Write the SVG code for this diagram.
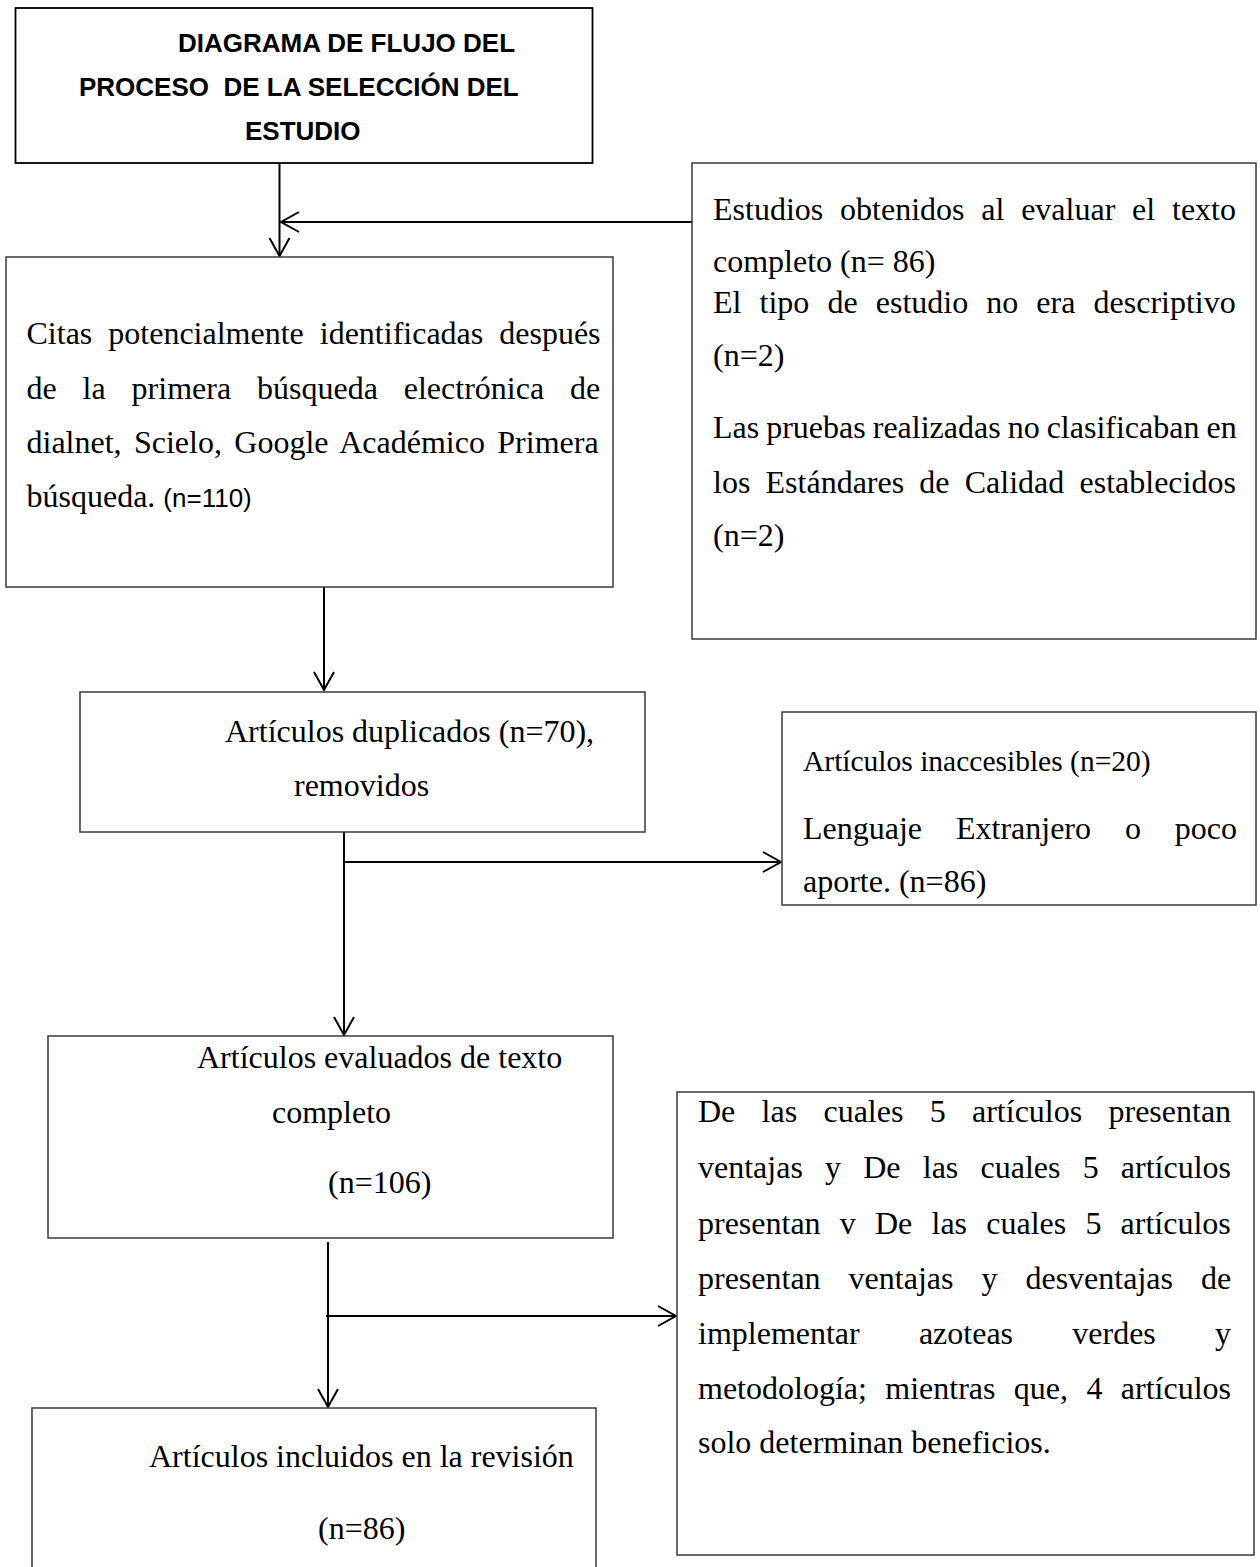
<svg xmlns="http://www.w3.org/2000/svg" width="1260" height="1567" viewBox="0 0 1260 1567">
<style>
  .box { fill: #ffffff; stroke: #3a3a3a; stroke-width: 1.5; }
  .tbox { fill: #ffffff; stroke: #000000; stroke-width: 1.8; }
  .t { font-family: "Liberation Serif", "Times New Roman", serif; font-size: 32px; fill: #000; }
  .ts { font-family: "Liberation Serif", "Times New Roman", serif; font-size: 29.5px; fill: #000; }
  .title { font-family: "Liberation Sans", Arial, sans-serif; font-size: 26px; font-weight: bold; fill: #000; }
  .sans { font-family: "Liberation Sans", Arial, sans-serif; font-size: 26px; }
  .conn { fill: none; stroke: #000; stroke-width: 2; }
</style>
<defs>
  <marker id="arr" markerUnits="userSpaceOnUse" markerWidth="24" markerHeight="24" refX="20" refY="12" orient="auto">
    <path d="M2,2 L20,12 L2,22" fill="none" stroke="#000" stroke-width="2"/>
  </marker>
</defs>
<rect width="1260" height="1567" fill="#ffffff"/>

<g id="connectors">
  <path class="conn" d="M279.5,163 V256" marker-end="url(#arr)"/>
  <path class="conn" d="M692,222 H281" marker-end="url(#arr)"/>
  <path class="conn" d="M324,587 V690" marker-end="url(#arr)"/>
  <path class="conn" d="M344,832 V1035" marker-end="url(#arr)"/>
  <path class="conn" d="M344,862 H781" marker-end="url(#arr)"/>
  <path class="conn" d="M328,1242 V1407" marker-end="url(#arr)"/>
  <path class="conn" d="M326,1316 H676" marker-end="url(#arr)"/>
</g>

<g id="node-title">
  <rect class="tbox" x="15.5" y="8" width="577" height="155"/>
  <text class="title" x="178" y="52">DIAGRAMA DE FLUJO DEL</text>
  <text class="title" x="79" y="96" xml:space="preserve">PROCESO  DE LA SELECCIÓN DEL</text>
  <text class="title" x="245" y="140">ESTUDIO</text>
</g>

<g id="node-estudios">
  <rect class="box" x="692" y="163" width="564" height="476"/>
  <text class="t" x="713" y="220" word-spacing="8.8">Estudios obtenidos al evaluar el texto</text>
  <text class="t" x="713" y="272">completo (n= 86)</text>
  <text class="t" x="713" y="313" word-spacing="10.1">El tipo de estudio no era descriptivo</text>
  <text class="t" x="713" y="366">(n=2)</text>
  <text class="t" x="713" y="438" word-spacing="-1">Las pruebas realizadas no clasificaban en</text>
  <text class="t" x="713" y="493" word-spacing="7.2">los Estándares de Calidad establecidos</text>
  <text class="t" x="713" y="546">(n=2)</text>
</g>

<g id="node-citas">
  <rect class="box" x="6" y="257" width="607" height="330"/>
  <text class="t" x="26.5" y="344" word-spacing="8">Citas potencialmente identificadas después</text>
  <text class="t" x="26.5" y="399" word-spacing="17.9">de la primera búsqueda electrónica de</text>
  <text class="t" x="26.5" y="453" word-spacing="4.4">dialnet, Scielo, Google Académico Primera</text>
  <text class="t" x="26.5" y="507">búsqueda. <tspan class="sans">(n=110)</tspan></text>
</g>

<g id="node-duplicados">
  <rect class="box" x="80" y="692" width="565" height="140"/>
  <text class="t" x="225" y="742">Artículos duplicados (n=70),</text>
  <text class="t" x="294" y="796">removidos</text>
</g>

<g id="node-inaccesibles">
  <rect class="box" x="782" y="712" width="474" height="193"/>
  <text class="ts" x="803" y="771">Artículos inaccesibles (n=20)</text>
  <text class="t" x="803" y="839" word-spacing="25.9">Lenguaje Extranjero o poco</text>
  <text class="t" x="803" y="892">aporte. (n=86)</text>
</g>

<g id="node-evaluados">
  <rect class="box" x="48" y="1036" width="565" height="202"/>
  <text class="t" x="197" y="1068">Artículos evaluados de texto</text>
  <text class="t" x="272" y="1123">completo</text>
  <text class="t" x="328" y="1193">(n=106)</text>
</g>

<g id="node-ventajas">
  <rect class="box" x="677" y="1092" width="577" height="463"/>
  <text class="t" x="698" y="1122" word-spacing="18.3">De las cuales 5 artículos presentan</text>
  <text class="t" x="698" y="1178" word-spacing="14.2">ventajas y De las cuales 5 artículos</text>
  <text class="t" x="698" y="1234" word-spacing="11.2">presentan v De las cuales 5 artículos</text>
  <text class="t" x="698" y="1289" word-spacing="20">presentan ventajas y desventajas de</text>
  <text class="t" x="698" y="1344" word-spacing="51.2">implementar azoteas verdes y</text>
  <text class="t" x="698" y="1399" word-spacing="10.4">metodología; mientras que, 4 artículos</text>
  <text class="t" x="698" y="1453">solo determinan beneficios.</text>
</g>

<g id="node-incluidos">
  <rect class="box" x="32" y="1408" width="564" height="200"/>
  <text class="t" x="149" y="1467">Artículos incluidos en la revisión</text>
  <text class="t" x="318" y="1539">(n=86)</text>
</g>
</svg>
